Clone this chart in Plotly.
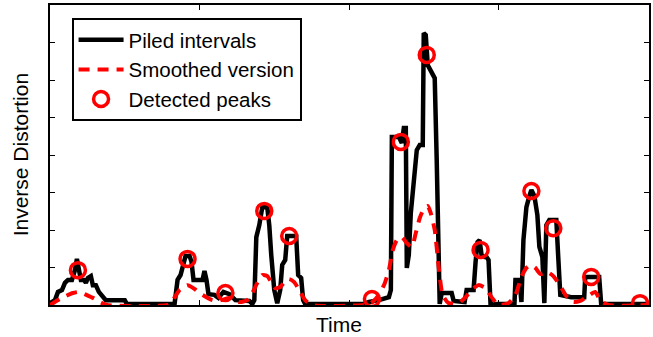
import plotly.graph_objects as go

# Piled intervals (black)
pile_t = [0, 5, 8, 12, 15, 18, 22, 25, 27, 29, 31, 34, 36, 38, 41, 43, 46, 49, 52, 56, 75, 77, 125,
          126, 128, 131, 134, 136, 140, 142, 144, 153, 155, 157, 159, 165, 169, 174, 180, 186, 200, 203,
          205, 207, 210, 213, 218, 220, 222, 225, 228, 231, 233, 236, 238, 247, 249, 252, 254, 256, 315,
          320, 330, 340,
          342, 343, 350, 353, 355, 357, 358, 360, 362, 365, 368, 371, 374, 375, 377, 379, 383, 386, 388, 390, 391,
          393, 403, 405, 416, 418, 425, 427, 429, 431, 433, 436, 438, 440, 442, 466,
          467, 471, 473, 475, 478, 481, 483, 486, 489, 491, 494, 496, 498, 501, 508, 510, 512, 523, 536, 537,
          551, 553, 601]
pile_v = [0.05, 0.13, 0.35, 0.4, 0.59, 0.67, 0.67, 0.93, 1.23, 0.93, 0.67, 0.67, 0.59, 0.72, 0.77, 0.53, 0.53,
          0.35, 0.24, 0.13, 0.13, 0.03, 0.03,
          0.27, 0.67, 0.8, 1.15, 1.31, 1.31, 1.15, 0.67, 0.67, 0.91, 0.67, 0.29, 0.27, 0.19, 0.35, 0.29, 0.13,
          0.11, 0.03,
          0.13, 1.81, 2.13, 2.61, 2.61, 2.13, 1.33, 0.4, 0.05, 0.4, 1.07, 1.2, 1.84, 1.84, 0.8, 0.72, 0.13, 0.03,
          0.03,
          0.08, 0.13, 0.21,
          0.4, 4.48, 4.48, 4.32, 4.72, 4.72, 0.99, 1.33, 2.45, 3.47, 4.13, 4.27, 4.27, 7.25, 7.2, 6.4, 6.21, 6.05,
          3.87, 0.21, 0.03,
          0.32, 0.32, 0.11, 0.08, 0.4, 0.4, 1.15, 1.68, 1.73, 1.33, 1.28, 1.28, 1.2, 0.03, 0.03,
          0.67, 0.67, 0.08, 1.73, 2.61, 2.91, 3.07, 2.91, 2.4, 1.55, 1.28, 0.05, 2.13, 2.27, 2.27, 1.25, 0.27,
          0.21, 0.21, 0.75, 0.75, 0.03, 0.03]

# Smoothed version (red dashed)
smooth_t = [0, 3, 12, 23, 30, 35, 43, 50, 57, 118, 122, 130, 138, 145, 150, 163, 172, 180, 190, 198, 203, 208,
            213, 218, 222, 226, 231, 236, 240, 245, 250, 256, 263, 315, 322, 330, 336, 340, 344, 348, 353, 358,
            363, 367, 371, 375, 379, 382, 386, 390, 394, 400, 410, 417, 423, 430, 437, 443, 450, 460, 467, 473,
            478, 482, 487, 492, 499, 505, 512, 518, 525, 532, 540, 547, 552, 560, 601]
smooth_v = [0, 0.05, 0.19, 0.32, 0.35, 0.29, 0.19, 0.08, 0, 0, 0.08, 0.4, 0.53, 0.43, 0.32, 0.13, 0.13, 0.19,
            0.08, 0.13, 0.32, 0.59, 0.8, 0.77, 0.61, 0.45, 0.48, 0.64, 0.69, 0.61, 0.4, 0.13, 0, 0, 0.05, 0.27,
            0.59, 0.93, 1.47, 1.73, 1.81, 1.65, 1.55, 1.92, 2.32, 2.56, 2.64, 2.45, 2.0, 1.01, 0.27, 0.05, 0.05,
            0.21, 0.4, 0.53, 0.45, 0.21, 0, 0.05, 0.27, 0.75, 0.99, 1.07, 0.99, 0.83, 0.88, 0.77, 0.51, 0.24,
            0.08, 0.11, 0.24, 0.35, 0.13, 0, 0]

# Detected peaks (red circles)
peak_t = [28, 138, 176, 215, 240, 323, 352, 378, 432, 483, 505, 543, 592]
peak_v = [0.93, 1.23, 0.32, 2.51, 1.84, 0.16, 4.35, 6.67, 1.47, 3.04, 2.05, 0.75, 0.05]

fig = go.Figure()
fig.add_trace(go.Scatter(x=pile_t, y=pile_v, mode="lines", name="Piled intervals",
                         line=dict(color="black", width=4.5)))
fig.add_trace(go.Scatter(x=smooth_t, y=smooth_v, mode="lines", name="Smoothed version",
                         line=dict(color="#ff0000", width=4, dash="11px,8px", shape="spline", smoothing=0.6)))
fig.add_trace(go.Scatter(x=peak_t, y=peak_v, mode="markers", name="Detected peaks",
                         marker=dict(symbol="circle-open", size=15, color="#ff0000",
                                     line=dict(color="#ff0000", width=3.5))))

axis_common = dict(showgrid=False, zeroline=False, showline=True, linecolor="black", linewidth=2,
                   mirror="ticks", ticks="inside", ticklen=5, tickcolor="black", tickwidth=1,
                   showticklabels=False)

fig.update_layout(
    width=653, height=337,
    margin=dict(l=50, r=2, t=5, b=32),
    paper_bgcolor="white", plot_bgcolor="white",
    font=dict(family="Liberation Sans, Arial", size=21, color="black"),
    showlegend=True,
    legend=dict(x=0.036, y=0.957, xanchor="left", yanchor="top",
                bordercolor="black", borderwidth=2, bgcolor="white",
                font=dict(size=20.5), tracegroupgap=0, itemwidth=45),
    xaxis=dict(range=[0, 601], tick0=0, dtick=150, **axis_common),
    yaxis=dict(range=[0, 8], tick0=0, dtick=1, **axis_common),
    annotations=[
        dict(text="Time", xref="paper", yref="paper", x=(340 - 50) / 601, y=-0.02,
             xanchor="center", yanchor="top", showarrow=False, font=dict(size=21)),
        dict(text="Inverse Distortion", xref="paper", yref="paper", x=-0.027, y=0.5, textangle=-90,
             xanchor="right", yanchor="middle", showarrow=False, font=dict(size=21)),
    ],
)

fig.write_html("out.html", config={"displayModeBar": False})

# remove the default page margin so the figure sits at the window's top-left corner
with open("out.html", "r", encoding="utf-8") as f:
    html = f.read()
html = html.replace("<body>", '<body style="margin:0;padding:0;">', 1)
html = html.replace("<head>", "<head><style>html,body{margin:0;padding:0;overflow:hidden;}</style>", 1)
with open("out.html", "w", encoding="utf-8") as f:
    f.write(html)
